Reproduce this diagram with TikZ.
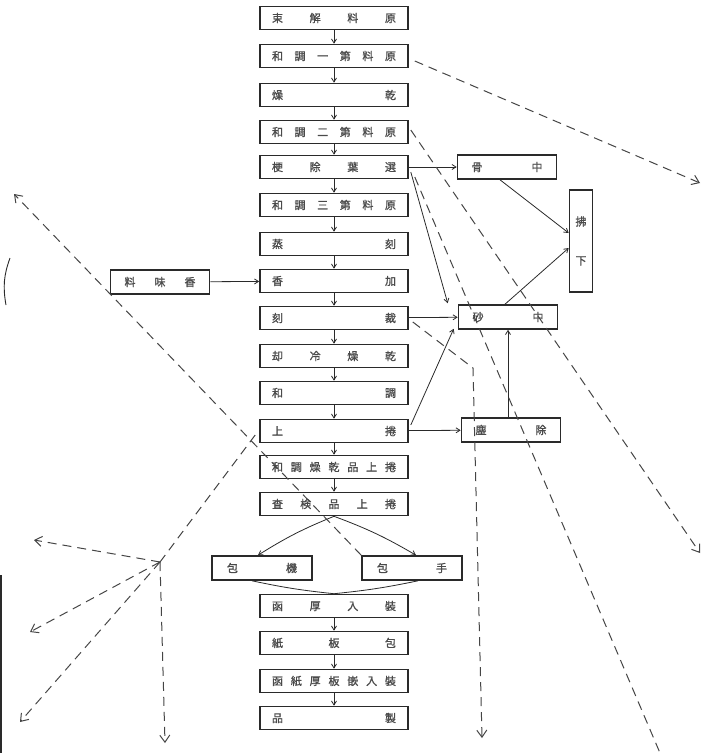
\documentclass[tikz,border=0pt]{standalone}
\usepackage{fontspec}
\newfontfamily\jpfont{Noto Sans CJK JP}[FakeBold=1.2]
\usepackage{xcolor}
\usetikzlibrary{arrows.meta,positioning,calc}
\definecolor{ink}{HTML}{2A2A2A}
\definecolor{letter}{HTML}{4A4A4A}
\definecolor{pencil}{HTML}{454545}
\tikzset{
  stage/.style   = {draw=ink, line width=1.6pt, rectangle, minimum height=23pt,
                    minimum width=148pt, text width=124pt, inner xsep=12pt,
                    inner ysep=0pt, align=left, text=letter},
  sidebox/.style = {draw=ink, line width=1.6pt, rectangle, minimum height=24pt,
                    minimum width=99pt, text width=71pt, inner xsep=14pt,
                    inner ysep=0pt, align=left, text=letter},
  flow/.style    = {-{Straight Barb[length=4pt,width=5pt]}, ink, line width=0.8pt},
  link/.style    = {ink, line width=0.8pt},
  trace/.style   = {pencil, line width=1pt, dash pattern=on 9pt off 6pt},
  tracearrow/.style = {trace, -{Straight Barb[length=7pt,width=10pt]}},
}

\begin{document}
\begin{tikzpicture}[x=1pt,y=-1pt,font=\jpfont\fontsize{11}{13}\selectfont]
\useasboundingbox (0,0) rectangle (704,753);

% main line
\node[stage] (s1)  at (334,18)  {束\hfill 解\hfill 料\hfill 原};
\node[stage] (s2)  at (334,56)  {和\hfill 調\hfill 一\hfill 第\hfill 料\hfill 原};
\node[stage] (s3)  at (334,95)  {燥\hfill 乾};
\node[stage] (s4)  at (334,132) {和\hfill 調\hfill 二\hfill 第\hfill 料\hfill 原};
\node[stage] (s5)  at (334,167) {梗\hfill 除\hfill 葉\hfill 選};
\node[stage] (s6)  at (334,205) {和\hfill 調\hfill 三\hfill 第\hfill 料\hfill 原};
\node[stage] (s7)  at (334,244) {蒸\hfill 刻};
\node[stage] (s8)  at (334,281) {香\hfill 加};
\node[stage] (s9)  at (334,318) {刻\hfill 裁};
\node[stage] (s10) at (334,356) {却\hfill 冷\hfill 燥\hfill 乾};
\node[stage] (s11) at (334,393) {和\hfill 調};
\node[stage] (s12) at (334,431) {上\hfill 捲};
\node[stage] (s13) at (334,467) {和\hfill 調\hfill 燥\hfill 乾\hfill 品\hfill 上\hfill 捲};
\node[stage] (s14) at (334,504) {査\hfill 検\hfill 品\hfill 上\hfill 捲};
\node[sidebox,minimum width=100pt,text width=70pt,inner xsep=15pt] (pack1) at (262,568) {包\hfill 機};
\node[sidebox,minimum width=100pt,text width=70pt,inner xsep=15pt] (pack2) at (412,568) {包\hfill 手};
\node[stage] (s16) at (334,606) {函\hfill 厚\hfill 入\hfill 裝};
\node[stage] (s17) at (334,643) {紙\hfill 板\hfill 包};
\node[stage] (s18) at (334,681) {函\hfill 紙\hfill 厚\hfill 板\hfill 嵌\hfill 入\hfill 裝};
\node[stage] (s19) at (334,718) {品\hfill 製};

% side boxes
\node[sidebox] (scent) at (160,282) {料\hfill 味\hfill 香};
\node[sidebox] (bone)  at (507,167) {骨\hfill 中};
\node[sidebox] (grit)  at (508,317) {砂\hfill 中};
\node[sidebox] (dust)  at (511,430) {塵\hfill 除};
\node[draw=ink, line width=1.6pt, minimum width=23pt, minimum height=102pt,
      inner sep=0pt, text=letter, align=center] (sale) at (581,241)
      {拂\\[26pt]下};

% flow down the main line
\foreach \a/\b in {s1/s2,s2/s3,s3/s4,s4/s5,s5/s6,s6/s7,s7/s8,s8/s9,s9/s10,
                   s10/s11,s11/s12,s12/s13,s13/s14,s16/s17,s17/s18,s18/s19}
  \draw[flow] (\a.south) -- (\b.north);
\draw[flow] (s14.south) to[bend right=5] ($(pack1.north)+(-4,0)$);
\draw[flow] (s14.south) to[bend left=5] ($(pack2.north)+(4,0)$);
\draw[link] ($(pack1.south)+(-10,0)$) to[bend right=3] (s16.north);
\draw[link] ($(pack2.south)+(6,0)$) to[bend left=3] (s16.north);

% side flows
\draw[flow] (scent) -- (s8);
\draw[flow] (s5) -- (bone);
\draw[flow] ($(bone.south)+(-7,0)$) -- ($(sale.west)+(0,-8)$);
\draw[flow] ($(grit.north)+(-3,0)$) -- ($(sale.west)+(0,7)$);
\draw[flow] ($(s5.east)+(2,5)$) -- ($(grit.north west)+(-10,-1)$);
\draw[flow] (s9) -- (grit);
\draw[flow] ($(s12.east)+(2,-6)$) -- ($(grit.south west)+(-4,-1)$);
\draw[flow] (s12) -- (dust);
\draw[flow] (dust.north -| grit.south) -- (grit.south);

% pencil traces
\coordinate (ea) at (700,183);
\coordinate (eb) at (700,553);
\coordinate (ec) at (660,753);
\coordinate (bend) at (473,368);
\coordinate (ed) at (482,738);
\coordinate (eh) at (14,194);
\coordinate (fan) at (160,562);
\coordinate (f1) at (34,540);
\coordinate (f2) at (30,632);
\coordinate (f3) at (20,722);
\coordinate (f4) at (165,743);
\draw[tracearrow] ($(s2.east)+(6,5)$) -- (ea);
\draw[tracearrow] ($(s4.east)+(2,-2)$) -- (eb);
\draw[trace] ($(s5.east)+(6,10)$) -- (ec);
\draw[tracearrow] ($(s9.east)+(4,4)$) -- (bend) -- (ed);
\draw[tracearrow] (pack2.north west) -- (eh);
\draw[trace] ($(s12.west)+(-4,4)$) -- (fan);
\foreach \e in {f1,f2,f3,f4}
  \draw[tracearrow] (fan) -- (\e);

% scan edge
\draw[ink, line width=2.5pt] (1,575) -- (1,753);
\draw[ink, line width=0.9pt] (10,258) to[bend right=15] (6,305);
\end{tikzpicture}
\end{document}
